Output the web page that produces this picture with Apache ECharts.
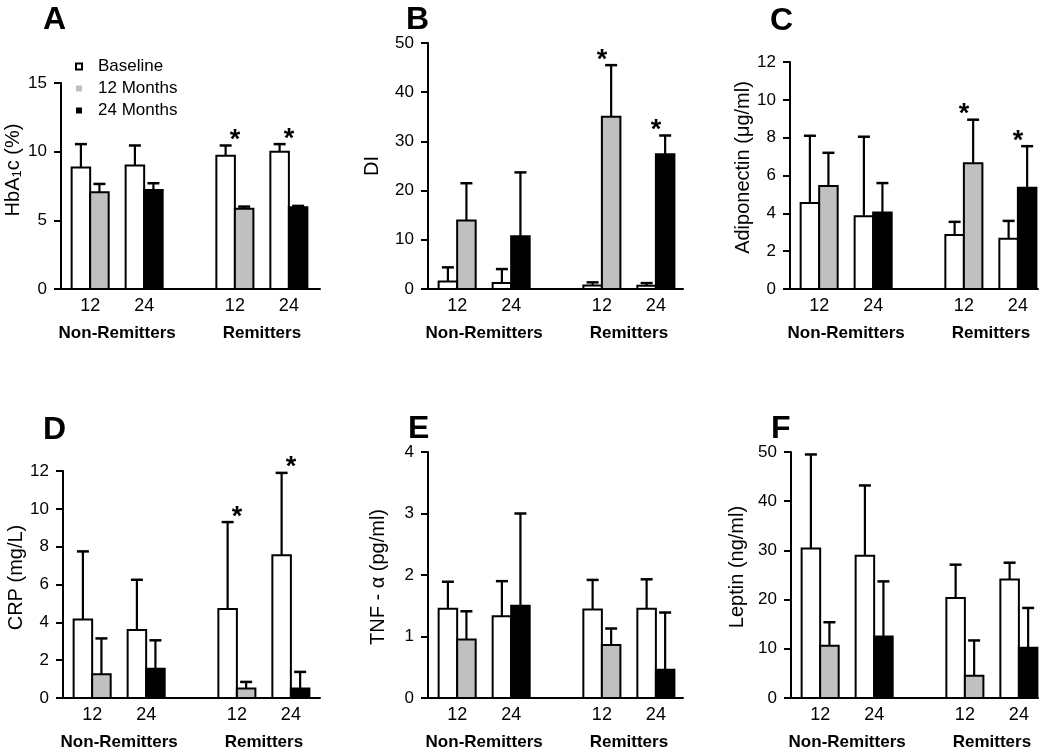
<!DOCTYPE html>
<html><head><meta charset="utf-8">
<script src="https://cdn.jsdelivr.net/npm/echarts@6/dist/echarts.min.js"></script>
<style>html,body{margin:0;padding:0;background:#fff}#c{width:1050px;height:752px}</style>
</head><body><div id="c"></div>
<script>
// ---------- data ----------
const xTickLabels = ['12', '24', '12', '24'];
const groupLabels = ['Non-Remitters', 'Remitters'];
const legendNames = ['Baseline', '12 Months', '24 Months'];
const followName = ['12 Months', '24 Months', '12 Months', '24 Months'];

const hba1cBase = [8.85, 9.0, 9.7, 10.0];
const hba1cBaseErr = [1.7, 1.45, 0.75, 0.55];
const hba1cFollow = [7.05, 7.2, 5.85, 5.95];
const hba1cFollowErr = [0.6, 0.5, 0.15, 0.1];
const hba1cSig = [0, 0, 1, 1];

const diBase = [1.5, 1.2, 0.7, 0.65];
const diBaseErr = [2.9, 2.85, 0.65, 0.55];
const diFollow = [13.9, 10.7, 35.0, 27.4];
const diFollowErr = [7.6, 13.0, 10.5, 3.8];
const diSig = [0, 0, 1, 1];

const adipoBase = [4.55, 3.85, 2.85, 2.65];
const adipoBaseErr = [3.55, 4.2, 0.7, 0.95];
const adipoFollow = [5.45, 4.05, 6.65, 5.35];
const adipoFollowErr = [1.75, 1.55, 2.3, 2.2];
const adipoSig = [0, 0, 1, 1];

const crpBase = [4.15, 3.6, 4.7, 7.55];
const crpBaseErr = [3.6, 2.65, 4.6, 4.35];
const crpFollow = [1.25, 1.55, 0.5, 0.5];
const crpFollowErr = [1.9, 1.5, 0.35, 0.88];
const crpSig = [0, 0, 1, 1];

const tnfBase = [1.45, 1.33, 1.44, 1.45];
const tnfBaseErr = [0.44, 0.57, 0.48, 0.48];
const tnfFollow = [0.95, 1.5, 0.86, 0.46];
const tnfFollowErr = [0.46, 1.5, 0.27, 0.93];
const tnfSig = [0, 0, 0, 0];

const leptinBase = [30.4, 28.9, 20.3, 24.1];
const leptinBaseErr = [19.1, 14.3, 6.8, 3.4];
const leptinFollow = [10.6, 12.5, 4.5, 10.2];
const leptinFollowErr = [4.8, 11.2, 7.2, 8.1];
const leptinSig = [0, 0, 0, 0];

// ---------- layout ----------
const FONT = 'Liberation Sans, Arial, sans-serif';
const GROUP_X = [0.54, 1.54, 3.22, 4.22];
const UNIT = 54;      // px per x unit
const HALF = 0.343;   // bar width in x units
const CAP = 6;        // half width of error cap in px
const GRAY = '#c0c0c0';
const NAME_SIZE = 20;

const panels = [
  {letter: 'A', name: '{n|HbA}{s|1}{n|c (%)}', max: 15, interval: 5, base: hba1cBase, baseErr: hba1cBaseErr, follow: hba1cFollow, followErr: hba1cFollowErr, sig: hba1cSig,
   grid: {left: 61, top: 83, width: 259, height: 206}, nameGap: 25, namePad: [0, 0, 0, 32], lx: 43, ly: 4},
  {letter: 'B', name: 'DI', max: 50, interval: 10, base: diBase, baseErr: diBaseErr, follow: diFollow, followErr: diFollowErr, sig: diSig,
   grid: {left: 428, top: 43, width: 255, height: 246}, nameGap: 46, namePad: [0, 0, 0, 0], lx: 406, ly: 4},
  {letter: 'C', name: 'Adiponectin (\u03bcg/ml)', max: 12, interval: 2, base: adipoBase, baseErr: adipoBaseErr, follow: adipoFollow, followErr: adipoFollowErr, sig: adipoSig,
   grid: {left: 790, top: 62, width: 248, height: 227}, nameGap: 32, namePad: [0, 0, 0, 16], lx: 770, ly: 5},
  {letter: 'D', name: 'CRP (mg/L)', max: 12, interval: 2, base: crpBase, baseErr: crpBaseErr, follow: crpFollow, followErr: crpFollowErr, sig: crpSig,
   grid: {left: 63, top: 471, width: 257, height: 227}, nameGap: 34, namePad: [0, 0, 0, 14], lx: 43, ly: 414},
  {letter: 'E', name: 'TNF - \u03b1 (pg/ml)', max: 4, interval: 1, base: tnfBase, baseErr: tnfBaseErr, follow: tnfFollow, followErr: tnfFollowErr, sig: tnfSig,
   grid: {left: 428, top: 452, width: 255, height: 246}, nameGap: 40, namePad: [0, 4, 0, 0], lx: 408, ly: 413},
  {letter: 'F', name: 'Leptin (ng/ml)', max: 50, interval: 10, base: leptinBase, baseErr: leptinBaseErr, follow: leptinFollow, followErr: leptinFollowErr, sig: leptinSig,
   grid: {left: 791, top: 452, width: 247, height: 246}, nameGap: 44, namePad: [0, 0, 0, 16], lx: 771, ly: 413}
];

function barRenderer(side, fill) {
  return function (params, api) {
    const i = api.value(0), v = api.value(1), e = api.value(2);
    const cx = GROUP_X[i];
    const x0 = side === 0 ? cx - HALF : cx;
    const x1 = x0 + HALF;
    const pTL = api.coord([x0, v]);
    const pBR = api.coord([x1, 0]);
    const pTop = api.coord([x0, v + e]);
    const xm = (pTL[0] + pBR[0]) / 2;
    return {type: 'group', children: [
      {type: 'line', shape: {x1: xm, y1: pTL[1], x2: xm, y2: pTop[1]}, style: {stroke: '#000', lineWidth: 2.2}},
      {type: 'line', shape: {x1: xm - CAP, y1: pTop[1], x2: xm + CAP, y2: pTop[1]}, style: {stroke: '#000', lineWidth: 2.5}},
      {type: 'rect', shape: {x: pTL[0], y: pTL[1], width: pBR[0] - pTL[0], height: pBR[1] - pTL[1]},
       style: {fill: fill, stroke: '#000', lineWidth: 2}}
    ]};
  };
}
function sigRenderer(params, api) {
  const i = api.value(0), top = api.value(1);
  const p = api.coord([GROUP_X[i], top]);
  return {type: 'text', x: p[0], y: p[1] - 5,
    style: {text: '*', font: 'bold 27px ' + FONT, fill: '#000', align: 'center', verticalAlign: 'middle'}};
}

const option = {
  animation: false,
  backgroundColor: '#fff',
  textStyle: {fontFamily: FONT},
  grid: [], xAxis: [], yAxis: [], series: [], graphic: [],
  legend: {
    data: [
      {name: 'Baseline', itemStyle: {color: '#fff', borderColor: '#000', borderWidth: 2}},
      {name: '12 Months', itemStyle: {color: GRAY, borderWidth: 0}},
      {name: '24 Months', itemStyle: {color: '#000', borderWidth: 0}}
    ],
    orient: 'vertical', left: 75, top: 58, padding: 0, itemGap: 5,
    itemWidth: 17, itemHeight: 6, icon: 'path://M0,0L6,0L6,6L0,6ZM17,6',
    selectedMode: false,
    textStyle: {fontSize: 17, color: '#000', fontFamily: FONT}
  }
};

panels.forEach((p, k) => {
  const xmax = p.grid.width / UNIT;
  option.grid.push(Object.assign({containLabel: false}, p.grid));
  option.xAxis.push({
    type: 'value', gridIndex: k, min: 0, max: xmax,
    axisLine: {show: true, lineStyle: {color: '#000', width: 2}},
    axisTick: {show: false}, splitLine: {show: false},
    axisLabel: {customValues: GROUP_X, formatter: v => xTickLabels[GROUP_X.indexOf(v)],
      fontSize: 18, color: '#000', margin: 8, fontFamily: FONT}
  });
  option.xAxis.push({
    type: 'value', gridIndex: k, min: 0, max: xmax, position: 'bottom',
    axisLine: {show: false}, axisTick: {show: false}, splitLine: {show: false},
    axisLabel: {customValues: [(GROUP_X[0] + GROUP_X[1]) / 2, (GROUP_X[2] + GROUP_X[3]) / 2],
      formatter: v => groupLabels[v < 2.5 ? 0 : 1],
      fontSize: 17, fontWeight: 'bold', color: '#000', margin: 36, fontFamily: FONT}
  });
  option.yAxis.push({
    type: 'value', gridIndex: k, min: 0, max: p.max, interval: p.interval,
    name: p.name, nameLocation: 'middle', nameGap: p.nameGap,
    nameTextStyle: {fontSize: NAME_SIZE, color: '#000', fontFamily: FONT, padding: p.namePad,
      rich: {n: {fontSize: NAME_SIZE, fontFamily: FONT, color: '#000'}, s: {fontSize: 13, fontFamily: FONT, color: '#000', padding: [8, 0, 0, 0]}}},
    axisLine: {show: true, lineStyle: {color: '#000', width: 2}},
    axisTick: {show: true, inside: false, length: 7, lineStyle: {color: '#000', width: 2}},
    splitLine: {show: false},
    axisLabel: {fontSize: 17, color: '#000', margin: 14, fontFamily: FONT}
  });
  const xi = 2 * k;
  option.series.push({
    name: 'Baseline', type: 'custom', xAxisIndex: xi, yAxisIndex: k,
    itemStyle: {color: '#fff', borderColor: '#000', borderWidth: 2},
    renderItem: barRenderer(0, '#fff'),
    data: p.base.map((v, i) => [i, v, p.baseErr[i]])
  });
  ['12 Months', '24 Months'].forEach((nm) => {
    const fill = nm === '12 Months' ? GRAY : '#000';
    option.series.push({
      name: nm, type: 'custom', xAxisIndex: xi, yAxisIndex: k,
      itemStyle: {color: fill, borderColor: '#000', borderWidth: 2},
      renderItem: barRenderer(1, fill),
      data: p.follow.map((v, i) => [i, v, p.followErr[i]]).filter((d, i) => followName[i] === nm)
    });
  });
  option.series.push({
    name: 'sig', type: 'custom', xAxisIndex: xi, yAxisIndex: k,
    renderItem: sigRenderer,
    data: p.sig.map((s, i) => [i, Math.max(p.base[i] + p.baseErr[i], p.follow[i] + p.followErr[i])]).filter((d, i) => p.sig[i])
  });
  option.graphic.push({type: 'text', left: p.lx, top: p.ly,
    style: {text: p.letter, font: 'bold 32px ' + FONT, fill: '#000'}});
});

const chart = echarts.init(document.getElementById('c'), null, {renderer: 'canvas'});
chart.setOption(option);
</script>
</body></html>
